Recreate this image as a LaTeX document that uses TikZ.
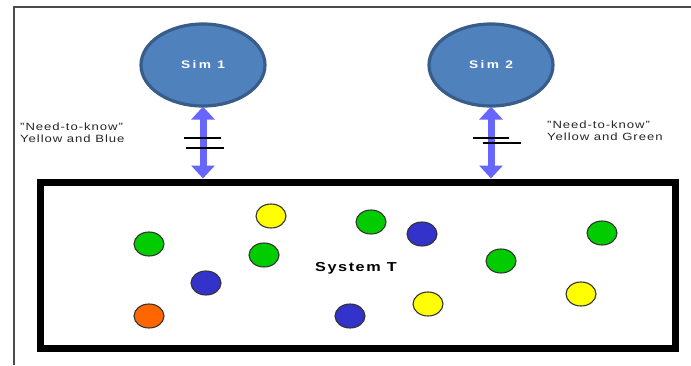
\documentclass[tikz,border=0pt]{standalone}
\usepackage{fontspec}
\setmainfont[FakeStretch=1.25]{Liberation Sans}
\usetikzlibrary{arrows.meta,shapes.geometric}

\definecolor{simfill}{HTML}{4F81BD}
\definecolor{simedge}{HTML}{385D8A}
\definecolor{linkblue}{HTML}{6666FF}
\definecolor{ballgreen}{HTML}{00CC00}
\definecolor{ballyellow}{HTML}{FFFF00}
\definecolor{ballblue}{HTML}{3333CC}
\definecolor{ballorange}{HTML}{FF6600}

\tikzset{
  sim/.style={ellipse, draw=simedge, line width=3.2pt, fill=simfill,
    minimum width=124pt, minimum height=82pt, inner sep=0pt,
    text=white, font=\bfseries\fontsize{11}{12}\selectfont\addfontfeature{LetterSpace=22}},
  system/.style={rectangle, draw=black, line width=7pt,
    minimum width=635pt, minimum height=166pt, inner sep=0pt},
  link/.style={linkblue, line width=7pt,
    {Triangle[width=23pt,length=13pt]}-{Triangle[width=23pt,length=13pt]}, shorten <=-1pt},
  cut/.style={black, line width=1.3pt},
  note/.style={align=left, anchor=north west, inner sep=0pt, text=black!85,
    font=\fontsize{10.5}{12}\selectfont\addfontfeature{LetterSpace=9}},
  ball/.style={ellipse, draw=black!80, line width=1.1pt,
    minimum width=30pt, minimum height=24pt, inner sep=0pt},
}

\begin{document}
\begin{tikzpicture}[x=1pt,y=-1pt]
  \useasboundingbox (0,0) rectangle (691,365);

  % outer page frame (top and left edges)
  \draw[black!70, line width=1.6pt] (14,365) -- (14,7) -- (691,7);

  % simulators
  \node[sim] (s1) at (203,65) {Sim 1};
  \node[sim] (s2) at (491,65) {Sim 2};

  % system box
  \node[system] (sys) at (357.5,265) {};
  \node[font=\bfseries\fontsize{13}{15}\selectfont\addfontfeature{LetterSpace=12}] (sysl) at (356,268) {System T};

  % two-way links
  \draw[link] (s1.south) -- (s1.south |- sys.north);
  \draw[link] (s2.south) -- (s2.south |- sys.north);

  % interruption marks on the links
  \draw[cut] (184,138) -- (221,138);
  \draw[cut] (186,148) -- (224,148);
  \draw[cut] (473,138) -- (509,138);
  \draw[cut] (483,143) -- (521,143);

  % link notes
  \node[note] (n1) at (20,123) {"Need-to-know"\\Yellow and Blue};
  \node[note] (n2) at (547,121) {"Need-to-know"\\Yellow and Green};

  % entities inside the system
  \node[ball, fill=ballgreen]  (b1)  at (149,244) {};
  \node[ball, fill=ballyellow] (b2)  at (271,216) {};
  \node[ball, fill=ballgreen]  (b3)  at (264,255) {};
  \node[ball, fill=ballblue]   (b4)  at (206,283) {};
  \node[ball, fill=ballorange] (b5)  at (149,316) {};
  \node[ball, fill=ballgreen]  (b6)  at (371,222) {};
  \node[ball, fill=ballblue]   (b7)  at (422,234) {};
  \node[ball, fill=ballblue]   (b8)  at (350,316) {};
  \node[ball, fill=ballyellow] (b9)  at (428,304) {};
  \node[ball, fill=ballgreen]  (b10) at (501,261) {};
  \node[ball, fill=ballgreen]  (b11) at (602,233) {};
  \node[ball, fill=ballyellow] (b12) at (581,294) {};
\end{tikzpicture}
\end{document}
